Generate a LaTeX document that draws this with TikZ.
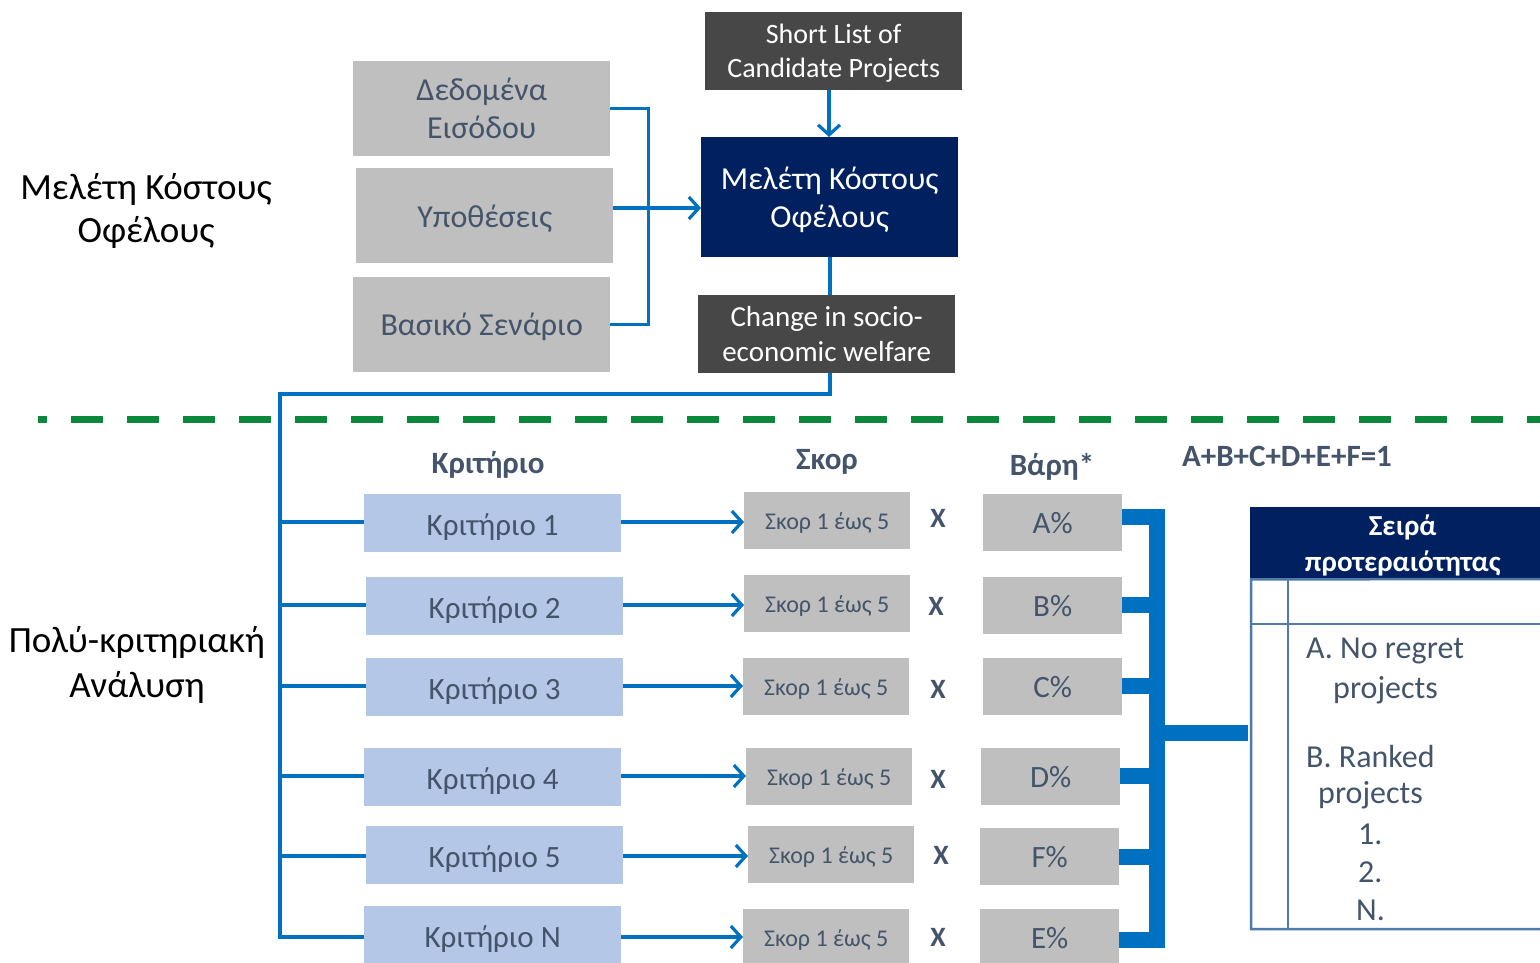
\documentclass[tikz,border=0pt]{standalone}
\usepackage{fontspec}
\setmainfont{Carlito}
\usetikzlibrary{arrows.meta}
\definecolor{ablue}{HTML}{0070C0}
\definecolor{navy}{HTML}{002060}
\definecolor{dgray}{HTML}{474747}
\definecolor{lgray}{HTML}{BFBFBF}
\definecolor{lblue}{HTML}{B4C7E7}
\definecolor{slate}{HTML}{44546A}
\definecolor{dgreen}{HTML}{0A873B}
\definecolor{tblue}{HTML}{4F7AAA}
\tikzset{
  box/.style={inner sep=0pt, align=center, anchor=north west},
  graybox/.style={box, fill=lgray, text=slate},
  darkbox/.style={box, fill=dgray, text=white},
  navybox/.style={box, fill=navy, text=white},
  critbox/.style={box, fill=lblue, text=slate, minimum width=257pt, minimum height=58pt, text height=30pt, text depth=6pt, font=\fontsize{31}{36}\selectfont},
  scorebox/.style={box, fill=lgray, text=slate, minimum width=166pt, minimum height=57pt, text height=24pt, text depth=6pt, font=\fontsize{24}{29}\selectfont},
  wbox/.style={box, fill=lgray, text=slate, minimum width=139pt, minimum height=57pt, text height=27pt, text depth=6pt, font=\fontsize{31}{36}\selectfont},
  conn/.style={draw=ablue, line width=3.2pt},
  arr/.style={-{Straight Barb[length=10pt,width=22pt,line width=3.2pt]}},
  fat/.style={draw=ablue, line width=16pt, line join=miter},
  hdr/.style={text=slate, font=\bfseries\fontsize{31}{36}\selectfont},
  xmark/.style={text=slate, font=\bfseries\fontsize{28}{32}\selectfont},
  ttext/.style={text=slate, anchor=west, inner sep=0pt, font=\fontsize{32}{38}\selectfont},
}
\begin{document}
\begin{tikzpicture}[x=1pt,y=-1pt]
\useasboundingbox (0,0) rectangle (1540,963);
% left labels
\node[align=center, font=\fontsize{37}{43}\selectfont] (lab1) at (146,211) {Μελέτη Κόστους\\Οφέλους};
\node[align=center, font=\fontsize{37}{45}\selectfont] (lab2) at (137,665) {Πολύ-κριτηριακή\\Ανάλυση};
% top section
\node[graybox, minimum width=257pt, minimum height=95pt, font=\fontsize{32}{38}\selectfont] (din) at (353,61) {Δεδομένα\\Εισόδου};
\node[graybox, minimum width=257pt, minimum height=95pt, text height=29pt, text depth=6pt, font=\fontsize{32}{38}\selectfont] (hyp) at (356,168) {Υποθέσεις};
\node[graybox, minimum width=257pt, minimum height=95pt, text height=27pt, text depth=6pt, font=\fontsize{32}{38}\selectfont] (bas) at (353,277) {Βασικό Σενάριο};
\node[darkbox, minimum width=257pt, minimum height=78pt, text depth=0pt, font=\fontsize{28}{34}\selectfont] (short) at (705,12) {Short List of\\Candidate Projects};
\node[navybox, minimum width=257pt, minimum height=120pt, text depth=0pt, font=\fontsize{32}{38}\selectfont] (mel) at (701,137) {Μελέτη Κόστους\\Οφέλους};
\node[darkbox, minimum width=257pt, minimum height=78pt, text depth=-2pt, font=\fontsize{29}{35}\selectfont] (chg) at (698,295) {Change in socio-\\economic welfare};
\draw[conn] (din.east) -- ++(38,0) |- (bas.east);
\coordinate (hy) at (0,208);
\draw[conn,arr] (hyp.east |- hy) -- (mel.west |- hy);
\draw[conn,arr] (short.south -| 829,0) -- (mel.north -| 829,0);
\draw[conn] (mel.south -| 830,0) -- (chg.north -| 830,0);
\coordinate (tb) at (280,939);
\draw[conn] (chg.south -| 830,0) -- (830,394) -| (tb);
% dashed separator
\draw[dgreen, line width=7pt, dash pattern=on 32pt off 24pt, dash phase=23pt] (38,419) -- (1540,419);
% headers
\node[hdr] (h1) at (488,465) {Κριτήριο};
\node[hdr] (h2) at (827,462) {Σκορ};
\node[hdr] (h3) at (1052,467) {Βάρη*};
\node[hdr] (h4) at (1287,456) {A+B+C+D+E+F=1};
% rows
\node[critbox] (k1) at (364,494) {Κριτήριο 1};
\node[critbox] (k2) at (366,577) {Κριτήριο 2};
\node[critbox] (k3) at (366,658) {Κριτήριο 3};
\node[critbox] (k4) at (364,748) {Κριτήριο 4};
\node[critbox] (k5) at (366,826) {Κριτήριο 5};
\node[critbox] (k6) at (364,906) {Κριτήριο N};
\node[scorebox] (s1) at (744,492) {Σκορ 1 έως 5};
\node[scorebox] (s2) at (744,575) {Σκορ 1 έως 5};
\node[scorebox] (s3) at (743,658) {Σκορ 1 έως 5};
\node[scorebox] (s4) at (746,748) {Σκορ 1 έως 5};
\node[scorebox] (s5) at (748,826) {Σκορ 1 έως 5};
\node[scorebox] (s6) at (743,909) {Σκορ 1 έως 5};
\node[xmark] (x1) at (938,518) {X};
\node[xmark] (x2) at (936,606) {X};
\node[xmark] (x3) at (938,689) {X};
\node[xmark] (x4) at (938,779) {X};
\node[xmark] (x5) at (941,855) {X};
\node[xmark] (x6) at (938,937) {X};
\node[wbox] (w1) at (983,494) {A\%};
\node[wbox] (w2) at (983,577) {B\%};
\node[wbox] (w3) at (983,658) {C\%};
\node[wbox] (w4) at (981,748) {D\%};
\node[wbox] (w5) at (980,828) {F\%};
\node[wbox] (w6) at (980,909) {E\%};
\foreach \i/\yy in {1/522,2/605,3/686,4/776,5/856,6/937}{
  \draw[conn] (tb |- 0,\yy) -- (k\i.west |- 0,\yy);
  \draw[conn,arr] (k\i.east |- 0,\yy) -- (s\i.west |- 0,\yy);
}
% thick bracket
\coordinate (vb) at (1157,0);
\draw[fat] (w1.east |- 0,517) -- (vb |- 0,517) -- (vb |- 0,940) -- (w6.east |- 0,940);
\draw[fat] (w2.east |- 0,605) -- (vb |- 0,605);
\draw[fat] (w3.east |- 0,686) -- (vb |- 0,686);
\draw[fat] (w4.east |- 0,776) -- (vb |- 0,776);
\draw[fat] (w5.east |- 0,857) -- (vb |- 0,857);
% table
\node[navybox, minimum width=305pt, minimum height=72pt, text depth=0pt, font=\bfseries\fontsize{29}{36}\selectfont] (th) at (1250,507) {Σειρά\\προτεραιότητας};
\draw[tblue, line width=2.5pt] (1560,929) -- (1251,929) -- (th.south west -| 1251,0) -- (1560,579);
\draw[tblue, line width=2.5pt] (1288,579) -- (1288,929);
\draw[tblue, line width=2.5pt] (1251,624) -- (1560,624);
\draw[conn, line width=16pt] (vb |- 0,733) -- (1248,733);
\node[ttext] (t1) at (1306,651) {A. No regret};
\node[ttext] (t2) at (1333,690) {projects};
\node[ttext] (t3) at (1306,757) {B. Ranked};
\node[ttext] (t4) at (1318,795) {projects};
\node[ttext] (t5) at (1358,834) {1.};
\node[ttext] (t6) at (1358,872) {2.};
\node[ttext] (t7) at (1356,910) {N.};
\end{tikzpicture}
\end{document}
